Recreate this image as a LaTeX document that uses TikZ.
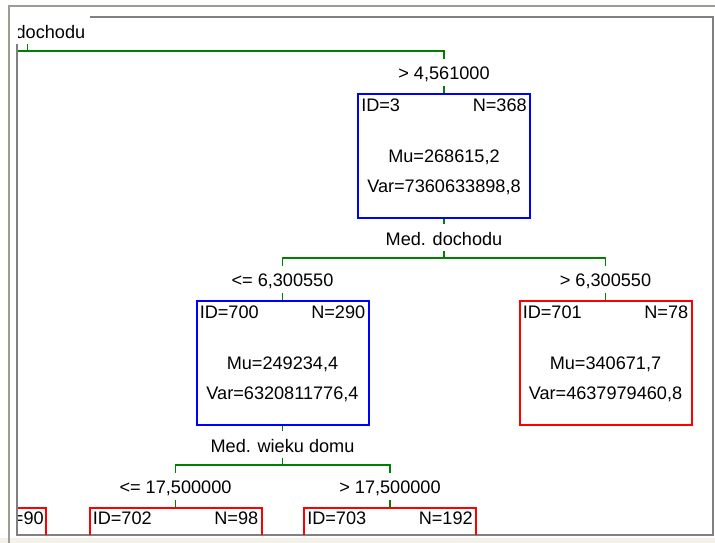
\documentclass[tikz,border=0pt]{standalone}
\usepackage{fontspec}
\setmainfont{Liberation Sans}
\usetikzlibrary{calc}

\definecolor{winedge}{RGB}{158,156,146}
\definecolor{paneledge}{RGB}{128,128,128}
\definecolor{statusbar}{RGB}{244,242,232}
\definecolor{splitgreen}{RGB}{0,128,0}
\definecolor{innerblue}{RGB}{0,0,255}
\definecolor{leafred}{RGB}{255,0,0}

\tikzset{
  tbox/.style={draw, line width=1.5pt, rectangle, inner sep=0pt,
               minimum width=129pt, minimum height=93pt, anchor=north},
  ttext/.style={inner sep=0pt, text=black},
  link/.style={draw=splitgreen, line width=1.1pt},
  frameline/.style={line width=1.5pt}
}

% one tree node: name, centre x, top y, colour, id, n, mu, var
\newcommand{\treebox}[8]{%
  \node[tbox, draw=#4] (#1) at (#2,#3) {};
  \node[ttext, anchor=base west] (#1-id) at ($(#1.north west)+(4,18)$) {ID=#5};
  \node[ttext, anchor=base east] (#1-n)  at ($(#1.north east)+(-4,18)$) {N=#6};
  \node[ttext, anchor=base] (#1-mu)  at ($(#1.north)+(0,69)$) {Mu=#7};
  \node[ttext, anchor=base] (#1-var) at ($(#1.north)+(0,99)$) {Var=#8};
}

\begin{document}
\begin{tikzpicture}[x=0.75pt, y=-0.75pt, font=\fontsize{13.6}{16}\selectfont]
\useasboundingbox (0,0) rectangle (715,543);
\fill[white] (0,0) rectangle (715,543);
\fill[statusbar] (0,538) rectangle (715,543);

% window edge and tree panel
\draw[winedge, frameline] (8.5,543) -- (8.5,5.5) -- (715,5.5);
\draw[paneledge, frameline] (17,17) rectangle (712.5,535);
% background of the split label at the top left
\fill[white] (15.5,15.5) rectangle (90,43.5);

\begin{scope}
\clip (18,18) rectangle (711.5,534);

% split of the parent node
\node[ttext, anchor=base east] (rootlbl) at (85.5,38) {dochodu};
\coordinate (root-s) at (27.5,44);
\coordinate (root-h) at (27.5,51);
\coordinate (root-l) at (-40,51);
\coordinate (n3-h) at (444,51);
\coordinate (n3-s) at (444,58.5);
\node[ttext, anchor=base] (n3-lbl) at (444,79) {> 4,561000};
\coordinate (n3-t) at (444,86);
\draw[link] (root-s) -- (root-h);
\draw[link] (root-l) -- (n3-h) -- (n3-s);

\treebox{n3}{444}{93}{innerblue}{3}{368}{268615,2}{7360633898,8}
\draw[link] (n3-t) -- (n3.north);

% split of node 3
\coordinate (n3-b) at (444,224);
\node[ttext, anchor=base] (n3-split) at (444,245) {Med. dochodu};
\coordinate (n3-u) at (444,251);
\coordinate (n3-j) at (444,258);
\draw[link] (n3.south) -- (n3-b);
\draw[link] (n3-u) -- (n3-j);
\coordinate (n700-h) at (282.5,258);
\coordinate (n701-h) at (605.5,258);
\coordinate (n700-s) at (282.5,265.5);
\coordinate (n701-s) at (605.5,265.5);
\draw[link] (n700-s) -- (n700-h) -- (n701-h) -- (n701-s);
\node[ttext, anchor=base] (n700-lbl) at (282.5,286) {<= 6,300550};
\node[ttext, anchor=base] (n701-lbl) at (605.5,286) {> 6,300550};
\coordinate (n700-t) at (282.5,293);
\coordinate (n701-t) at (605.5,293);

\treebox{n700}{282.5}{300}{innerblue}{700}{290}{249234,4}{6320811776,4}
\treebox{n701}{605.5}{300}{leafred}{701}{78}{340671,7}{4637979460,8}
\draw[link] (n700-t) -- (n700.north);
\draw[link] (n701-t) -- (n701.north);

% split of node 700
\coordinate (n700-b) at (282.5,431);
\node[ttext, anchor=base] (n700-split) at (282.5,452) {Med. wieku domu};
\coordinate (n700-u) at (282.5,458);
\coordinate (n700-j) at (282.5,465);
\draw[link] (n700.south) -- (n700-b);
\draw[link] (n700-u) -- (n700-j);
\coordinate (n702-h) at (175.5,465);
\coordinate (n703-h) at (390,465);
\coordinate (n702-s) at (175.5,472.5);
\coordinate (n703-s) at (390,472.5);
\draw[link] (n702-s) -- (n702-h) -- (n703-h) -- (n703-s);
\node[ttext, anchor=base] (n702-lbl) at (175.5,493) {<= 17,500000};
\node[ttext, anchor=base] (n703-lbl) at (390,493) {> 17,500000};
\coordinate (n702-t) at (175.5,500);
\coordinate (n703-t) at (390,500);

\node[tbox, draw=leafred] (n702) at (175.5,507) {};
\node[ttext, anchor=base west] (n702-id) at ($(n702.north west)+(4,17)$) {ID=702};
\node[ttext, anchor=base east] (n702-n) at ($(n702.north east)+(-4,17)$) {N=98};
\node[tbox, draw=leafred] (n703) at (390,507) {};
\node[ttext, anchor=base west] (n703-id) at ($(n703.north west)+(4,17)$) {ID=703};
\node[ttext, anchor=base east] (n703-n) at ($(n703.north east)+(-4,17)$) {N=192};
\draw[link] (n702-t) -- (n702.north);
\draw[link] (n703-t) -- (n703.north);

% leaf of the left branch, cut by the panel edge
\node[tbox, draw=leafred] (nleft) at (-40,507) {};
\node[ttext, anchor=base east] (nleft-n) at ($(nleft.north east)+(-3,17)$) {=90};
\end{scope}
\end{tikzpicture}
\end{document}
